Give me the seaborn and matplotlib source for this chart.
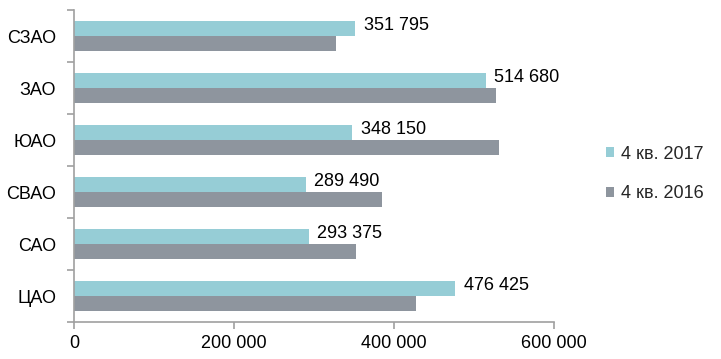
import pandas as pd
import numpy as np
import matplotlib
matplotlib.use('Agg')
import matplotlib.pyplot as plt
from matplotlib.ticker import FuncFormatter, FixedLocator
import seaborn as sns

districts = ['СЗАО', 'ЗАО', 'ЮАО', 'СВАО', 'САО', 'ЦАО']
q4_2017 = [351795, 514680, 348150, 289490, 293375, 476425]
q4_2016 = [327500, 527500, 531000, 385000, 352500, 428000]
series = ['4 кв. 2017', '4 кв. 2016']
colors = ['#96CDD6', '#8E959E']

df = pd.DataFrame({
    'district': districts * 2,
    'value': q4_2017 + q4_2016,
    'period': [series[0]] * len(districts) + [series[1]] * len(districts),
})

sns.set_style('white')
plt.rcParams['font.family'] = ['Liberation Sans', 'DejaVu Sans']
fs = 13

fig = plt.figure(figsize=(7.21, 3.59), dpi=100)
ax = fig.add_axes([0.103, 0.103, 0.665, 0.869])

sns.barplot(data=df, y='district', x='value', hue='period', order=districts,
            hue_order=series, palette=colors, orient='h', width=0.58,
            saturation=1, linewidth=0, ax=ax)

def fmt(v):
    return f'{int(round(v)):,}'.replace(',', ' ')

# labels for the 2017 bars only
for bar, v in zip(ax.containers[0], q4_2017):
    ax.text(bar.get_width() + 11000, bar.get_y() + bar.get_height() / 2 - 0.06,
            fmt(v), va='center', ha='left', fontsize=fs, color='black')

ax.set_xlim(0, 600000)
ax.set_ylim(len(districts) - 0.5, -0.5)
ax.xaxis.set_major_locator(FixedLocator([0, 200000, 400000, 600000]))
ax.xaxis.set_major_formatter(FuncFormatter(lambda v, p: fmt(v)))

# tick marks at category boundaries, labels at centres
ax.set_yticks(np.arange(len(districts) + 1) - 0.5)
ax.set_yticklabels([])
ax.set_yticks(np.arange(len(districts)), minor=True)
ax.set_yticklabels(districts, minor=True)
ax.tick_params(axis='y', which='minor', left=False, length=0, pad=13, labelsize=fs)
ax.tick_params(axis='y', which='major', left=True, length=5, width=1.2,
               color='#A0A0A0', direction='out')
ax.tick_params(axis='x', bottom=True, length=5, width=1.2, color='#A0A0A0',
               direction='out', labelsize=fs, pad=4)
ax.tick_params(axis='both', which='both', labelcolor='black')

for s in ['top', 'right']:
    ax.spines[s].set_visible(False)
for s in ['left', 'bottom']:
    ax.spines[s].set_color('#A0A0A0')
    ax.spines[s].set_linewidth(1.2)

ax.set_xlabel('')
ax.set_ylabel('')
ax.legend(loc='center left', bbox_to_anchor=(1.075, 0.475), frameon=False,
          fontsize=fs, handlelength=0.45, handleheight=0.45, handletextpad=0.4,
          labelspacing=1.25)

fig.savefig('out.png', dpi=100)
